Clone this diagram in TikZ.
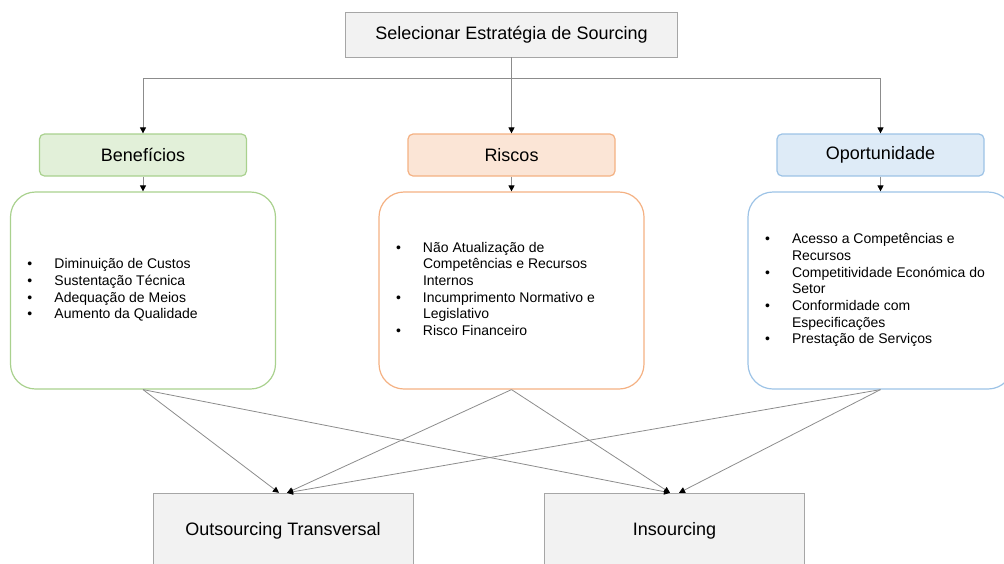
\documentclass[tikz,border=0pt]{standalone}
\usepackage{fontspec}
\setmainfont{Liberation Sans}
\usetikzlibrary{arrows.meta,positioning,calc}
\definecolor{boxgray}{HTML}{F2F2F2}
\definecolor{linegray}{HTML}{8C8C8C}
\definecolor{bengreen}{HTML}{A9D18E}
\definecolor{benfill}{HTML}{E2F0D9}
\definecolor{riscorange}{HTML}{F4B183}
\definecolor{riscfill}{HTML}{FBE5D6}
\definecolor{opblue}{HTML}{9DC3E6}
\definecolor{opfill}{HTML}{DEEBF7}
\newcommand{\itemlist}[1]{\begin{tabular}{@{\hspace{17pt}}p{27pt}@{}p{221pt}@{}}#1\end{tabular}}

\begin{document}
\begin{tikzpicture}[x=1pt, y=1pt,
  strat/.style={draw=black!35, fill=boxgray, minimum width=332pt, minimum height=45pt,
    inner sep=0pt, font=\fontsize{18}{21}\selectfont},
  head/.style={line width=1.2pt, rounded corners=5pt, minimum width=207pt,
    minimum height=42pt, inner sep=0pt, font=\fontsize{18}{21}\selectfont},
  panel/.style={line width=1.2pt, rounded corners=25pt, minimum width=265pt,
    minimum height=197pt, inner sep=0pt, font=\fontsize{14}{16.7}\selectfont},
  result/.style={draw=black!35, fill=boxgray, minimum width=260pt, minimum height=76pt,
    inner sep=0pt, font=\fontsize{18}{21}\selectfont},
  arr/.style={-{Triangle[length=6pt, width=6pt, color=black]}, linegray, line width=0.8pt}
]
  \useasboundingbox (0,0) rectangle (1004,-563);

  \node[strat] (sel) at (511.5,-34.5) {Selecionar Estratégia de Sourcing};

  \node[head, draw=bengreen, fill=benfill]     (benh)  at (143,-155)   {Benefícios};
  \node[head, draw=riscorange, fill=riscfill]  (risch) at (511.5,-155) {Riscos};
  \node[head, draw=opblue, fill=opfill]        (oph)   at (880.5,-155) {Oportunidade};

  \node[panel, draw=bengreen] (benp) at (143,-290.5) {\itemlist{
    \textbullet & Diminuição de Custos\\
    \textbullet & Sustentação Técnica\\
    \textbullet & Adequação de Meios\\
    \textbullet & Aumento da Qualidade}};
  \node[panel, draw=riscorange] (riscp) at (511.5,-290.5) {\itemlist{
    \textbullet & Não Atualização de\\
                & Competências e Recursos\\
                & Internos\\
    \textbullet & Incumprimento Normativo e\\
                & Legislativo\\
    \textbullet & Risco Financeiro}};
  \node[panel, draw=opblue] (opp) at (880.5,-290.5) {\itemlist{
    \textbullet & Acesso a Competências e\\
                & Recursos\\
    \textbullet & Competitividade Económica do\\
                & Setor\\
    \textbullet & Conformidade com\\
                & Especificações\\
    \textbullet & Prestação de Serviços}};

  \node[result] (outs) at (283,-531)   {Outsourcing Transversal};
  \node[result] (ins)  at (674.5,-531) {Insourcing};

  \coordinate (bus) at ($(sel.south)+(0,-21)$);
  \draw[arr] (sel.south) -- (risch.north);
  \draw[arr] (bus) -| (benh.north);
  \draw[arr] (bus) -| (oph.north);

  \draw[arr] (benh.south) -- (benp.north);
  \draw[arr] (risch.south) -- (riscp.north);
  \draw[arr] (oph.south) -- (opp.north);

  \draw[arr] (benp.south) -- ([xshift=-4pt]outs.north);
  \draw[arr] (benp.south) -- ([xshift=-4.5pt]ins.north);
  \draw[arr] (riscp.south) -- ([xshift=4pt]outs.north);
  \draw[arr] (riscp.south) -- ([xshift=-4.5pt]ins.north);
  \draw[arr] (opp.south) -- ([xshift=4pt]outs.north);
  \draw[arr] (opp.south) -- ([xshift=4.5pt]ins.north);
\end{tikzpicture}
\end{document}
